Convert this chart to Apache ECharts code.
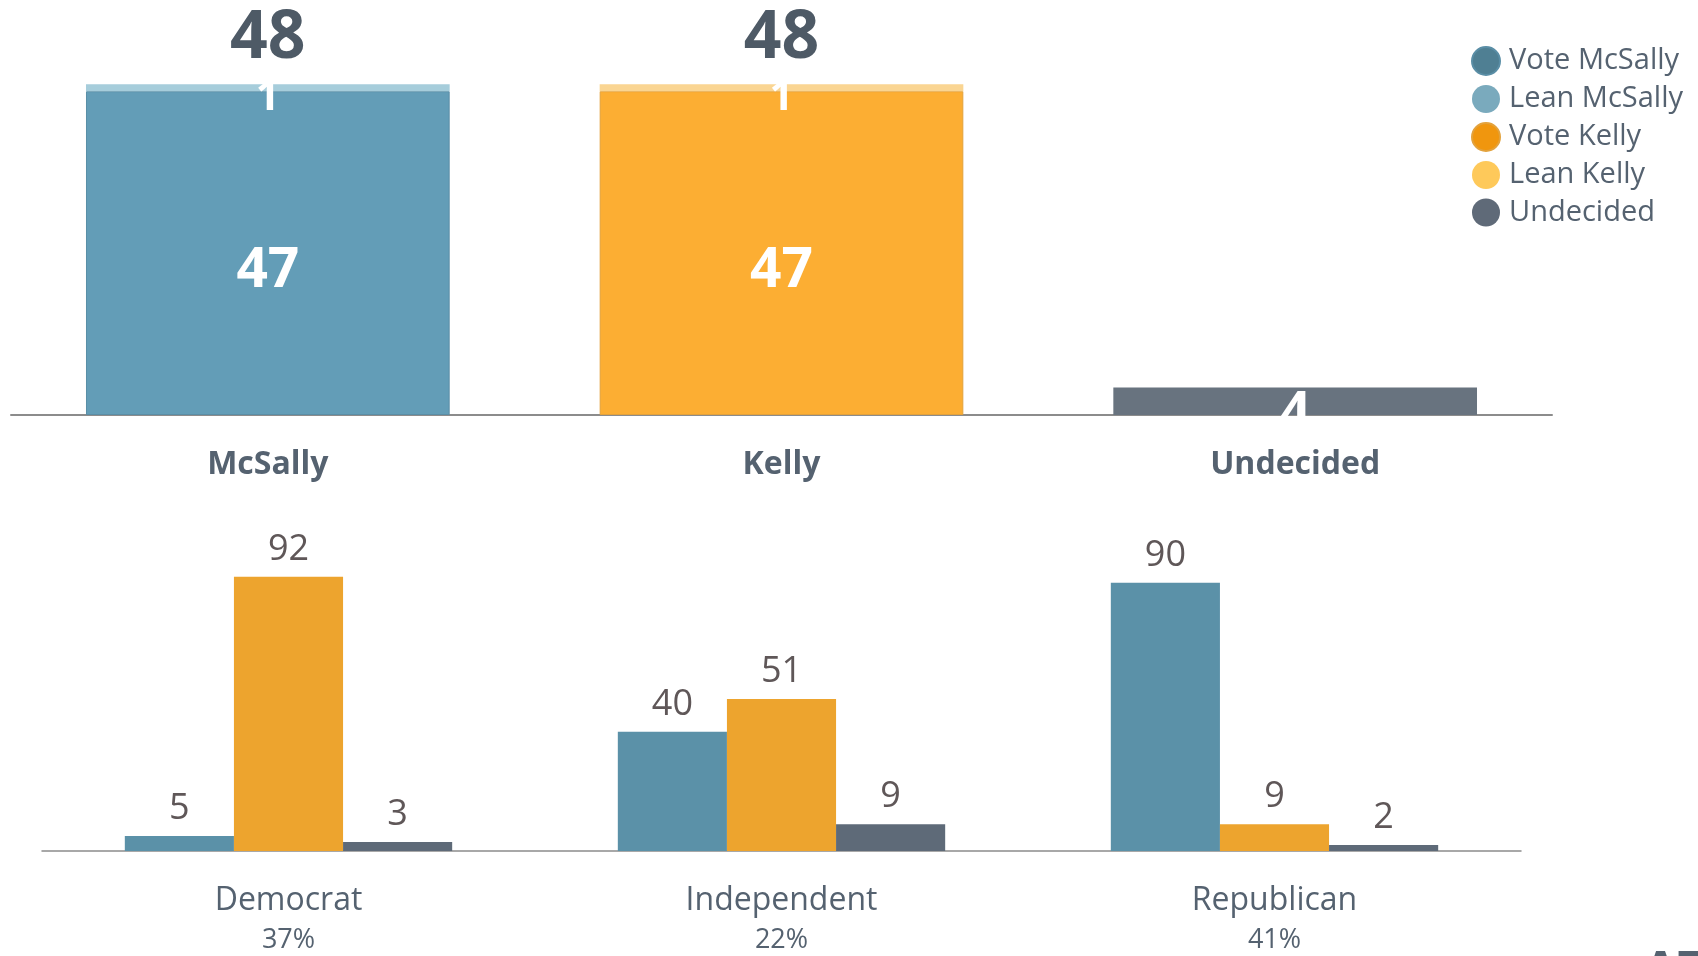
<!DOCTYPE html>
<html>
<head>
<meta charset="utf-8">
<script src="https://cdn.jsdelivr.net/npm/echarts@6/dist/echarts.min.js"></script>
<style>
html,body{margin:0;padding:0;background:#fff;}
#c{width:1698px;height:956px;}
</style>
</head>
<body>
<div id="c"></div>
<script>
// ---- data ----
const topCategories = ['McSally', 'Kelly', 'Undecided'];
const voteMcSally = [47, '-', '-'];
const leanMcSally = [1, '-', '-'];
const voteKelly = ['-', 47, '-'];
const leanKelly = ['-', 1, '-'];
const undecided = ['-', '-', 4];

const partyCategories = ['Democrat', 'Independent', 'Republican'];
const partyShares = ['37%', '22%', '41%'];
const partyMcSally = [5, 40, 90];
const partyKelly = [92, 51, 9];
const partyUndecided = [3, 9, 2];

const legendNames = ['Vote McSally', 'Lean McSally', 'Vote Kelly', 'Lean Kelly', 'Undecided'];
const legendColors = ['#4f7f93', '#7aaabd', '#f0960e', '#fec95a', '#5f6a78'];

// totals for top stacked columns
const totals = topCategories.map((c, i) => {
  const parts = [voteMcSally[i], leanMcSally[i], voteKelly[i], leanKelly[i]];
  const nums = parts.filter(v => typeof v === 'number');
  return nums.length > 1 ? nums.reduce((a, b) => a + b, 0) : '-';
});

const FONT = '"Open Sans", "Noto Sans", sans-serif';
const TEXT = '#556270';
const VAL = '#5f5758';

const chart = echarts.init(document.getElementById('c'), null, {renderer: 'canvas'});

const insideBig = {show: true, position: 'inside', color: '#fff', fontFamily: FONT, fontWeight: 'bold', fontSize: 55, offset: [0, 18]};
const insideSmall = {show: true, position: 'inside', color: '#fff', fontFamily: FONT, fontWeight: 'bold', fontSize: 42, offset: [0, 10]};
const valLabel = {show: true, position: 'top', distance: 9, color: VAL, fontFamily: FONT, fontSize: 36};

chart.setOption({
  animation: false,
  backgroundColor: '#fff',
  legend: {
    orient: 'vertical',
    left: 1466,
    top: 41,
    icon: 'circle',
    itemWidth: 28,
    itemHeight: 28,
    itemGap: 8.5,
    textStyle: {color: TEXT, fontFamily: FONT, fontSize: 29, padding: [0, 0, 0, 4]},
    data: legendNames.map((n, i) => ({name: n, itemStyle: {color: legendColors[i]}}))
  },
  grid: [
    {left: 11, right: 146, top: 70.5, bottom: 541},
    {left: 42, right: 177, top: 553, bottom: 105}
  ],
  xAxis: [
    {
      type: 'category', gridIndex: 0, data: topCategories,
      axisLine: {lineStyle: {color: '#8c8c8c', width: 2}},
      axisTick: {show: false},
      axisLabel: {color: TEXT, fontFamily: FONT, fontWeight: 'bold', fontSize: 32, lineHeight: 32, margin: 34}
    },
    {
      type: 'category', gridIndex: 1, data: partyCategories,
      axisLine: {lineStyle: {color: '#8c8c8c', width: 1.5}},
      axisTick: {show: false},
      axisLabel: {
        margin: 31,
        formatter: (v, i) => '{a|' + v + '}\n{b|' + partyShares[i] + '}',
        rich: {
          a: {color: TEXT, fontFamily: FONT, fontSize: 32, lineHeight: 38},
          b: {color: TEXT, fontFamily: FONT, fontSize: 27, lineHeight: 40}
        }
      }
    }
  ],
  yAxis: [
    {type: 'value', gridIndex: 0, min: 0, max: 50, show: false},
    {type: 'value', gridIndex: 1, min: 0, max: 100, show: false}
  ],
  series: [
    {name: 'Vote McSally', type: 'bar', stack: 'top', xAxisIndex: 0, yAxisIndex: 0, barWidth: '70.8%',
      data: voteMcSally, itemStyle: {color: '#639db7', borderColor: '#5a8ea6', borderWidth: 1}, label: insideBig},
    {name: 'Lean McSally', type: 'bar', stack: 'top', xAxisIndex: 0, yAxisIndex: 0, barWidth: '70.8%',
      data: leanMcSally, itemStyle: {color: '#a6cddb'}, label: insideSmall},
    {name: 'Vote Kelly', type: 'bar', stack: 'top', xAxisIndex: 0, yAxisIndex: 0, barWidth: '70.8%',
      data: voteKelly, itemStyle: {color: '#fcae33', borderColor: '#e3a23c', borderWidth: 1}, label: insideBig},
    {name: 'Lean Kelly', type: 'bar', stack: 'top', xAxisIndex: 0, yAxisIndex: 0, barWidth: '70.8%',
      data: leanKelly, itemStyle: {color: '#fad592'}, label: insideSmall},
    {name: 'Undecided', type: 'bar', stack: 'top', xAxisIndex: 0, yAxisIndex: 0, barWidth: '70.8%',
      data: undecided, itemStyle: {color: '#68737f'}, label: Object.assign({}, insideBig, {offset: [0, 14]})},
    {name: 'total', type: 'scatter', xAxisIndex: 0, yAxisIndex: 0, data: totals, symbolSize: 0, silent: true,
      itemStyle: {opacity: 1, color: TEXT},
      label: {show: true, position: 'top', distance: 12, color: '#4e5a66', opacity: 1, fontFamily: FONT, fontWeight: 'bold', fontSize: 66}},

    {name: 'McSally', type: 'bar', xAxisIndex: 1, yAxisIndex: 1, barGap: '0%', barCategoryGap: '33.6%',
      data: partyMcSally, itemStyle: {color: '#5b91a8'}, label: valLabel},
    {name: 'Kelly', type: 'bar', xAxisIndex: 1, yAxisIndex: 1, barGap: '0%', barCategoryGap: '33.6%',
      data: partyKelly, itemStyle: {color: '#eda42e'}, label: valLabel},
    {name: 'Undecided ', type: 'bar', xAxisIndex: 1, yAxisIndex: 1, barGap: '0%', barCategoryGap: '33.6%',
      data: partyUndecided, itemStyle: {color: '#5e6a78'}, label: valLabel}
  ],
  graphic: [
    {type: 'text', left: 1644, top: 948, style: {text: 'AZ', fill: TEXT, font: 'bold 48px "Open Sans", sans-serif'}}
  ]
});
</script>
</body>
</html>
